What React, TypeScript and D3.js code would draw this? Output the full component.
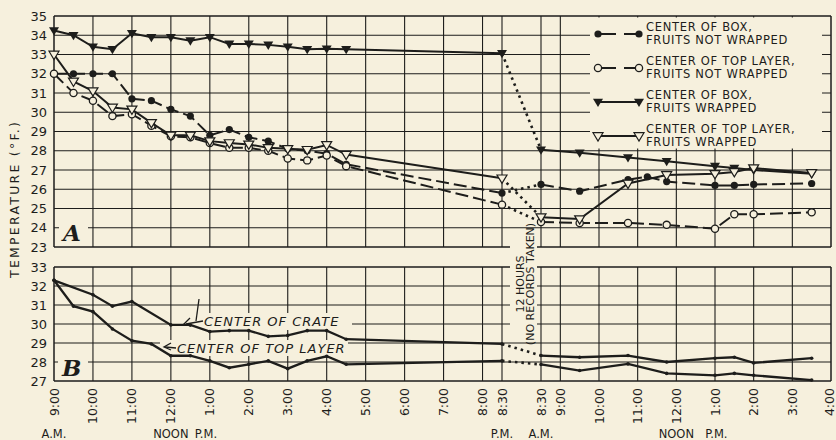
import React from "react";
import * as d3 from "d3";

// time = hours counted from 9:00 A.M. of the first day (23.5 = 8:30 A.M. next day)
const boxBareTimes = [0, 0.5, 1, 1.5, 2, 2.5, 3, 3.5, 4, 4.5, 5, 5.5, 6, 6.5, 7, 7.5, 11.5, 23.5, 24.5, 25.75, 26.25, 26.75, 28, 28.5, 29, 30.5];
const boxBareTemps = [32.0, 32.0, 32.0, 32.0, 30.7, 30.6, 30.15, 29.8, 28.8, 29.1, 28.7, 28.5, 28.1, 28.0, 27.85, 27.3, 25.8, 26.25, 25.9, 26.5, 26.65, 26.4, 26.2, 26.2, 26.25, 26.3];

const sharedTimes = [0, 0.5, 1, 1.5, 2, 2.5, 3, 3.5, 4, 4.5, 5, 5.5, 6, 6.5, 7, 7.5, 11.5, 23.5, 24.5, 25.75, 26.75, 28, 28.5, 29, 30.5];
const topBareTemps = [32.0, 31.0, 30.6, 29.8, 29.9, 29.3, 28.75, 28.7, 28.4, 28.15, 28.15, 28.0, 27.6, 27.5, 27.75, 27.2, 25.2, 24.3, 24.25, 24.25, 24.15, 23.95, 24.7, 24.7, 24.8];
const boxWrapTemps = [34.25, 34.0, 33.4, 33.27, 34.1, 33.9, 33.9, 33.72, 33.9, 33.55, 33.55, 33.5, 33.4, 33.27, 33.3, 33.27, 33.06, 28.05, 27.9, 27.65, 27.45, 27.2, 27.1, 27.0, 26.8];
const topWrapTemps = [33.0, 31.6, 31.1, 30.25, 30.15, 29.45, 28.8, 28.8, 28.5, 28.4, 28.33, 28.15, 28.1, 28.05, 28.3, 27.8, 26.57, 24.55, 24.45, 26.3, 26.74, 26.8, 26.9, 27.1, 26.85];

// panel B
const crateTimes = [0, 1, 1.5, 2, 3, 3.5, 4, 4.5, 5, 5.5, 6, 6.5, 7, 7.5, 11.5, 23.5, 24.5, 25.75, 26.75, 28, 28.5, 29, 30.5];
const crateTemps = [32.3, 31.54, 30.94, 31.18, 29.95, 29.95, 29.6, 29.65, 29.65, 29.35, 29.4, 29.65, 29.65, 29.2, 28.95, 28.34, 28.25, 28.34, 28.0, 28.2, 28.25, 27.95, 28.2];
const layerTemps = [32.3, 30.94, 30.65, 29.74, 29.12, 28.95, 28.33, 28.33, 28.06, 27.7, 27.88, 28.06, 27.65, 28.06, 28.3, 27.88, 28.06, 27.87, 27.55, 27.9, 27.4, 27.3, 27.4, 27.3, 27.05];

const tickTimes = [0, 1, 2, 3, 4, 5, 6, 7, 8, 9, 10, 11, 11.5, 23.5, 24, 25, 26, 27, 28, 29, 30, 31];
const tickLabels = ["9:00", "10:00", "11:00", "12:00", "1:00", "2:00", "3:00", "4:00", "5:00", "6:00", "7:00", "8:00", "8:30", "8:30", "9:00", "10:00", "11:00", "12:00", "1:00", "2:00", "3:00", "4:00"];
const periodLabels = [
  { t: 0, text: "A.M.", dx: 0 },
  { t: 3, text: "NOON", dx: 0 },
  { t: 3, text: "P.M.", dx: 35 },
  { t: 11.5, text: "P.M.", dx: 0 },
  { t: 23.5, text: "A.M.", dx: 0 },
  { t: 27, text: "NOON", dx: 0 },
  { t: 27, text: "P.M.", dx: 40 },
];

const legendItems = [
  { lines: ["CENTER OF BOX,", "FRUITS NOT WRAPPED"], marker: "dot", dashed: true },
  { lines: ["CENTER OF TOP LAYER,", "FRUITS NOT WRAPPED"], marker: "ring", dashed: true },
  { lines: ["CENTER OF BOX,", "FRUITS WRAPPED"], marker: "tri", dashed: false },
  { lines: ["CENTER OF TOP LAYER,", "FRUITS WRAPPED"], marker: "otri", dashed: false },
];

const BG = "#f6f0dd";
const INK = "#1d1d1b";
const FONT = "DejaVu Sans, sans-serif";

const x = d3.scaleLinear().domain([0, 11.5, 23.5, 31]).range([54, 502, 541, 831]);
const yA = d3.scaleLinear().domain([23, 35]).range([247, 16]);
const yB = d3.scaleLinear().domain([27, 33]).range([381, 267]);

type Pt = [number, number];

function split(times: number[], temps: number[]) {
  const pts: Pt[] = times.map((t, i) => [t, temps[i]]);
  const day1 = pts.filter((p) => p[0] <= 11.5);
  const day2 = pts.filter((p) => p[0] >= 23.5);
  return { pts, day1, day2, gap: [day1[day1.length - 1], day2[0]] as Pt[] };
}

function Marker({ kind, cx, cy }: { kind: string; cx: number; cy: number }) {
  if (kind === "dot") return <circle cx={cx} cy={cy} r={3.6} fill={INK} />;
  if (kind === "ring") return <circle cx={cx} cy={cy} r={3.6} fill={BG} stroke={INK} strokeWidth={1.3} />;
  const d = `M${cx - 5},${cy - 3.3}L${cx + 5},${cy - 3.3}L${cx},${cy + 5}Z`;
  if (kind === "tri") return <path d={d} fill={INK} />;
  return <path d={d} fill={BG} stroke={INK} strokeWidth={1.2} />;
}

function Series({ times, temps, y, marker, dashed, width = 2 }: any) {
  const s = split(times, temps);
  const line = d3.line<Pt>().x((d) => x(d[0])).y((d) => y(d[1]));
  const dash = dashed ? "13 5" : undefined;
  return (
    <g>
      <path d={line(s.day1) || ""} fill="none" stroke={INK} strokeWidth={width} strokeDasharray={dash} />
      <path d={line(s.day2) || ""} fill="none" stroke={INK} strokeWidth={width} strokeDasharray={dash} />
      <path d={line(s.gap) || ""} fill="none" stroke={INK} strokeWidth={2.6} strokeDasharray="2.5 4" />
      {marker === "small"
        ? s.pts.map((p, i) => <circle key={i} cx={x(p[0])} cy={y(p[1])} r={1.8} fill={INK} />)
        : s.pts.map((p, i) => <Marker key={i} kind={marker} cx={x(p[0])} cy={y(p[1])} />)}
    </g>
  );
}

function Grid({ y, lo, hi }: { y: any; lo: number; hi: number }) {
  const vals = d3.range(lo, hi + 1);
  return (
    <g stroke={INK} strokeWidth={1.1}>
      {vals.map((v) => (
        <line key={"h" + v} x1={x(0)} x2={x(31)} y1={y(v)} y2={y(v)} strokeWidth={v === lo || v === hi ? 1.5 : 1.1} />
      ))}
      {tickTimes.map((t, i) => (
        <line key={"v" + i} x1={x(t)} x2={x(t)} y1={y(hi)} y2={y(lo)} strokeWidth={i === 0 || t === 31 ? 1.5 : 1.1} />
      ))}
    </g>
  );
}

export default function App() {
  return (
    <div style={{ position: "absolute", left: 0, top: 0 }}>
      <svg width={836} height={440} style={{ display: "block" }}>
        <rect width={836} height={440} fill={BG} />
        <Grid y={yA} lo={23} hi={35} />
        <Grid y={yB} lo={27} hi={33} />

        {/* masks */}
        <rect x={590} y={17.5} width={232} height={131} fill={BG} />
        <rect x={510} y={229} width={27} height={112} fill={BG} />
        <rect x={59} y={220} width={29} height={25} fill={BG} />
        <rect x={58} y={355} width={30} height={24} fill={BG} />
        <rect x={172} y={313} width={180} height={17} fill={BG} />
        <rect x={160} y={340} width={188} height={16} fill={BG} />

        {/* y axis labels */}
        <g fontFamily={FONT} fontSize={13} fill={INK} textAnchor="end">
          {d3.range(23, 36).map((v) => (
            <text key={"a" + v} x={47} y={yA(v)} dy="0.36em">{v}</text>
          ))}
          {d3.range(27, 34).map((v) => (
            <text key={"b" + v} x={47} y={yB(v)} dy="0.36em">{v}</text>
          ))}
        </g>
        <text
          transform="translate(19,200) rotate(-90)"
          textAnchor="middle"
          fontFamily={FONT}
          fontSize={12.5}
          fill={INK}
          textLength={156}
          lengthAdjust="spacing"
        >
          TEMPERATURE (°F.)
        </text>

        {/* x tick labels */}
        <g fontFamily={FONT} fontSize={12.5} fill={INK}>
          {tickTimes.map((t, i) => (
            <text
              key={i}
              transform={`translate(${Math.min(x(t), 829)},388) rotate(-90)`}
              textAnchor="end"
              dy="0.36em"
            >
              {tickLabels[i]}
            </text>
          ))}
          {periodLabels.map((p, i) => (
            <text key={"p" + i} x={x(p.t) + p.dx} y={438} textAnchor="middle" fontSize={11.5}>
              {p.text}
            </text>
          ))}
        </g>

        {/* gap note */}
        <g fontFamily={FONT} fontSize={11} fill={INK} textAnchor="middle">
          <text transform="translate(520,284) rotate(-90)" dy="0.36em">12 HOURS</text>
          <text transform="translate(530,284) rotate(-90)" dy="0.36em">(NO RECORDS TAKEN)</text>
        </g>

        {/* panel letters */}
        <g fontFamily="DejaVu Serif, serif" fontStyle="italic" fontWeight="bold" fontSize={23} fill={INK}>
          <text x={63} y={241}>A</text>
          <text x={62} y={376}>B</text>
        </g>

        {/* panel A */}
        <Series times={boxBareTimes} temps={boxBareTemps} y={yA} marker="dot" dashed />
        <Series times={sharedTimes} temps={topBareTemps} y={yA} marker="ring" dashed />
        <Series times={sharedTimes} temps={boxWrapTemps} y={yA} marker="tri" />
        <Series times={sharedTimes} temps={topWrapTemps} y={yA} marker="otri" />

        {/* panel B */}
        <Series times={crateTimes} temps={crateTemps} y={yB} marker="small" width={2.3} />
        <Series times={sharedTimes} temps={layerTemps} y={yB} marker="small" width={2.3} />

        {/* panel B annotations */}
        <g fontFamily={FONT} fontStyle="italic" fontSize={13} fill={INK} letterSpacing={1}>
          <text x={204} y={326}>CENTER OF CRATE</text>
          <text x={177} y={353}>CENTER OF TOP LAYER</text>
        </g>
        <g stroke={INK} strokeWidth={1.3} fill="none">
          <path d="M203,321L186,324" />
          <path d="M190,318L184,324L191,326" />
          <path d="M199,299L196,321" />
          <path d="M176,348L165,347" />
          <path d="M171,343L164,347L171,350" />
        </g>

        {/* legend */}
        <g fontFamily={FONT} fontSize={11.5} fill={INK} letterSpacing={0.7}>
          {legendItems.map((it, i) => {
            const top = 27 + i * 34;
            const sy = top + 7;
            return (
              <g key={i}>
                <line
                  x1={598}
                  x2={639}
                  y1={sy}
                  y2={sy}
                  stroke={INK}
                  strokeWidth={2}
                  strokeDasharray={it.dashed ? "18 8 18" : undefined}
                />
                <Marker kind={it.marker} cx={598} cy={sy} />
                <Marker kind={it.marker} cx={639} cy={sy} />
                <text x={646} y={top + 4}>{it.lines[0]}</text>
                <text x={646} y={top + 16.5}>{it.lines[1]}</text>
              </g>
            );
          })}
        </g>
      </svg>
    </div>
  );
}
